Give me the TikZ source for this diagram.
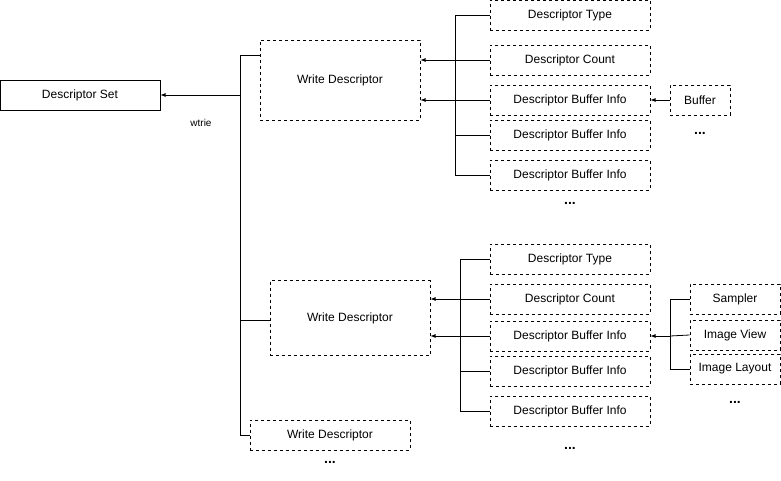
\documentclass[tikz,border=0pt]{standalone}
\usepackage{fontspec}
\setmainfont{Liberation Sans}
\begin{document}
\begin{tikzpicture}[x=1pt,y=-1pt,
  box/.style={draw,dashed,line width=0.8pt,minimum height=30pt,inner sep=0pt,font=\fontsize{12}{14}\selectfont},
  dots/.style={font=\fontsize{14}{14}\selectfont\bfseries,inner sep=0pt},
  arr/.style={-latex,line width=0.8pt},
  ln/.style={line width=0.8pt},
  every node/.style={font=\fontsize{12}{14}\selectfont}]
\useasboundingbox (0,0) rectangle (781,481);
\node[draw,solid,line width=0.8pt,minimum width=160pt,minimum height=30pt,inner sep=0pt] (set) at (80,95) {Descriptor Set};
\node[font=\fontsize{10}{12}\selectfont] (lbl) at (201,123) {wtrie};
\node[box,minimum width=160pt,minimum height=80pt] (w1) at (340,80) {Write Descriptor};
\node[box,minimum width=160pt,minimum height=75pt] (w2) at (350,318) {Write Descriptor};
\node[box,minimum width=160pt] (w3) at (330,435) {Write Descriptor};
\node[dots] (d3) at (330,462) {...};
\coordinate (t0) at (240,95);
\coordinate (t1) at (240,55);
\coordinate (t3) at (240,435);
\draw[ln] (t1) -- (260,55);
\draw[ln] (240,320) -- (270,320);
\draw[ln] (t1) -- (t3) -- (w3.west);
\draw[arr] (t0) -- (set.east);
% group 1
\node[box,minimum width=160pt] (a1) at (570,15) {Descriptor Type};
\node[box,minimum width=160pt] (a2) at (570,60) {Descriptor Count};
\node[box,minimum width=160pt] (a3) at (570,100) {Descriptor Buffer Info};
\node[box,minimum width=160pt] (a4) at (570,135) {Descriptor Buffer Info};
\node[box,minimum width=160pt] (a5) at (570,175) {Descriptor Buffer Info};
\node[dots] (ad) at (570,203) {...};
\node[box,minimum width=60pt] (buf) at (700,100) {Buffer};
\node[dots] (bd) at (700,133) {...};
\draw[ln] (a1.west) -- (455,15) -- (455,175) -- (a5.west);
\draw[ln] (455,135) -- (a4.west);
\draw[ln] (a2.west) -- (455,60);
\draw[arr] (455,60) -- (w1.east |- 455,60);
\draw[arr] (a3.west) -- (w1.east |- a3.west);
\draw[arr] (buf.west) -- (a3.east);
% group 2
\node[box,minimum width=160pt] (b1) at (570,259) {Descriptor Type};
\node[box,minimum width=160pt] (b2) at (570,299) {Descriptor Count};
\node[box,minimum width=160pt] (b3) at (570,336) {Descriptor Buffer Info};
\node[box,minimum width=160pt] (b4) at (570,371) {Descriptor Buffer Info};
\node[box,minimum width=160pt] (b5) at (570,411) {Descriptor Buffer Info};
\node[dots] (bdd) at (570,448) {...};
\draw[ln] (b1.west) -- (460,259) -- (460,411) -- (b5.west);
\draw[ln] (460,371) -- (b4.west);
\draw[ln] (b2.west) -- (460,299);
\draw[arr] (460,299) -- (w2.east |- 460,299);
\draw[arr] (b3.west) -- (w2.east |- b3.west);
\node[box,minimum width=90pt] (s1) at (735,299) {Sampler};
\node[box,minimum width=90pt] (s2) at (735,335) {Image View};
\node[box,minimum width=90pt] (s3) at (735,369) {Image Layout};
\node[dots] (sd) at (735,402) {...};
\draw[ln] (s1.west) -- (670,299) -- (670,369) -- (s3.west);
\draw[ln] (s2.west) -- (670,336);
\draw[arr] (670,336) -- (b3.east);
\end{tikzpicture}
\end{document}
